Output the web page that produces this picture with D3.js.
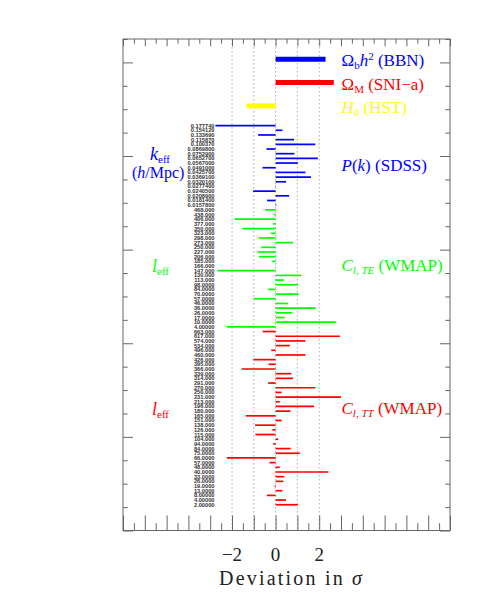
<!DOCTYPE html>
<html>
<head>
<meta charset="utf-8">
<script src="https://cdn.jsdelivr.net/npm/d3@7"></script>
<style>
  body { margin: 0; background: #fff; }
  text { font-family: 'Liberation Serif', 'DejaVu Serif', serif; }
</style>
</head>
<body>
<div id="chart"></div>
<script>
const w = 498, h = 609

// constraints on top
const topNames = ['BBN', 'SNI-a', 'HST']
const topDev = [2.29, 2.67, -1.33]
const topColors = ['#0000ff', '#ff0000', '#ffff00']

// SDSS P(k)
const kLabels = ['0.177740', '0.154120', '0.133690', '0.115870', '0.100370', '0.0869800', '0.0752900',
  '0.0652700', '0.0567000', '0.0491000', '0.0425700', '0.0369100', '0.0320100', '0.0277400',
  '0.0240500', '0.0208900', '0.0181400', '0.0157800']
const kDev = [-2.76, 0.31, -0.80, 0.85, 1.82, -0.42, 0.86, 1.94, 1.02, -0.60, 1.37, 1.62, 0.48, 0.02,
  -1.03, 0.62, -0.39, 0.03]

// WMAP TE
const teLabels = ['468.000', '438.000', '406.000', '377.000', '350.000', '323.000', '298.000', '273.000',
  '250.000', '227.000', '206.000', '185.000', '166.000', '147.000', '130.000', '113.000', '98.0000',
  '84.0000', '70.0000', '57.0000', '46.0000', '36.0000', '26.0000', '17.0000', '10.0000', '4.00000']
const teDev = [-0.48, -0.08, -1.87, -0.12, -1.53, -0.22, -0.77, 0.80, -0.66, -0.82, -0.77, -0.15, -0.02,
  -2.67, 1.17, 0.39, 1.02, -0.34, 1.06, -1.00, 0.57, 1.84, 0.76, 0.42, 2.76, -2.24]

// WMAP TT
const ttLabels = ['663.000', '617.000', '574.000', '534.000', '496.000', '460.000', '426.000', '395.000',
  '366.000', '339.000', '314.000', '291.000', '270.000', '250.000', '231.000', '213.000', '196.000',
  '180.000', '165.000', '151.000', '138.000', '126.000', '115.000', '104.000', '94.0000', '84.0000',
  '75.0000', '66.0000', '57.0000', '48.0000', '40.0000', '33.0000', '26.0000', '19.0000', '13.0000',
  '8.00000', '4.00000', '2.00000']
const ttDev = [-0.59, 2.95, 1.37, 0.65, -0.20, 1.37, -1.02, -0.32, -1.56, 0.72, 0.80, -0.34, 1.82, 0.28,
  3.00, 0.19, 1.76, 0.68, -1.37, 0.28, -0.94, -0.15, -0.93, 0.12, -0.11, 0.69, 1.11, -2.24, -0.28,
  0.19, 2.42, 0.40, 0.35, -0.05, 0.31, -0.40, 0.48, 1.02]

const svg = d3.select('#chart').append('svg')
  .attr('width', w).attr('height', h)

const x = d3.scaleLinear().domain([-7, 8]).range([123, 450])
const y = d3.scaleLinear().domain([0, 105]).range([530.5, 39])

const frameCol = '#666'

// dotted guide lines
svg.selectAll('line.grid')
  .data([-2, -1, 0, 1, 2])
  .enter().append('line')
  .attr('class', 'grid')
  .attr('x1', d => x(d)).attr('x2', d => x(d))
  .attr('y1', y(105)).attr('y2', y(0))
  .attr('stroke', '#999').attr('stroke-width', 0.8)
  .attr('stroke-dasharray', '1.5,2.5')

// rows
const rows = []
kLabels.forEach((l, i) => rows.push({ label: l, dev: kDev[i], color: '#0000ff' }))
teLabels.forEach((l, i) => rows.push({ label: l, dev: teDev[i], color: '#00ff00' }))
ttLabels.forEach((l, i) => rows.push({ label: l, dev: ttDev[i], color: '#ff0000' }))
rows.forEach((r, i) => { r.v = 86.5 - i })

svg.selectAll('line.row')
  .data(rows)
  .enter().append('line')
  .attr('class', 'row')
  .attr('x1', x(0)).attr('x2', d => x(d.dev) === x(0) ? x(0) + 0.5 : x(d.dev))
  .attr('y1', d => y(d.v)).attr('y2', d => y(d.v))
  .attr('stroke', d => d.color).attr('stroke-width', 1.7)

svg.selectAll('text.rowlab')
  .data(rows)
  .enter().append('text')
  .attr('class', 'rowlab')
  .attr('x', 214.5).attr('y', d => y(d.v) + 2)
  .attr('text-anchor', 'end')
  .style('font-family', 'Liberation Sans, sans-serif')
  .style('font-size', '5.7px')
  .style('font-weight', 'bold')
  .attr('fill', '#333')
  .text(d => d.label)

// the three thick bars
svg.selectAll('line.top')
  .data(topDev)
  .enter().append('line')
  .attr('class', 'top')
  .attr('x1', x(0)).attr('x2', d => x(d))
  .attr('y1', (d, i) => y(100.7 - 5 * i)).attr('y2', (d, i) => y(100.7 - 5 * i))
  .attr('stroke', (d, i) => topColors[i]).attr('stroke-width', 5)

// frame and ticks
const axisStyle = g => {
  g.select('.domain').remove()
  g.selectAll('line').attr('stroke', frameCol)
  g.selectAll('text').remove()
}
const halfs = d3.range(-7, 8.01, 0.5)
const ints = halfs.filter(d => Number.isInteger(d))
const minorX = halfs.filter(d => !Number.isInteger(d))

svg.append('g').attr('transform', `translate(0,${y(0)})`)
  .call(d3.axisBottom(x).tickValues(ints).tickSize(-15)).call(axisStyle)
svg.append('g').attr('transform', `translate(0,${y(0)})`)
  .call(d3.axisBottom(x).tickValues(minorX).tickSize(-7.3)).call(axisStyle)
svg.append('g').attr('transform', `translate(0,${y(105)})`)
  .call(d3.axisTop(x).tickValues(ints).tickSize(-7.3)).call(axisStyle)
svg.append('g').attr('transform', `translate(0,${y(105)})`)
  .call(d3.axisTop(x).tickValues(minorX).tickSize(-4.7)).call(axisStyle)

const fives = d3.range(0, 105.01, 5)
const yMajor = fives.filter(d => d % 20 === 0)
const yMinor = fives.filter(d => d % 20 !== 0)
svg.append('g').attr('transform', `translate(${x(-7)},0)`)
  .call(d3.axisLeft(y).tickValues(yMajor).tickSize(-10)).call(axisStyle)
svg.append('g').attr('transform', `translate(${x(-7)},0)`)
  .call(d3.axisLeft(y).tickValues(yMinor).tickSize(-4.7)).call(axisStyle)
svg.append('g').attr('transform', `translate(${x(8)},0)`)
  .call(d3.axisRight(y).tickValues(yMajor).tickSize(-10)).call(axisStyle)
svg.append('g').attr('transform', `translate(${x(8)},0)`)
  .call(d3.axisRight(y).tickValues(yMinor).tickSize(-4.7)).call(axisStyle)

svg.append('rect')
  .attr('x', x(-7)).attr('y', y(105))
  .attr('width', x(8) - x(-7)).attr('height', y(0) - y(105))
  .attr('fill', 'none').attr('stroke', frameCol).attr('stroke-width', 1)

// bottom tick labels
svg.selectAll('text.xlab')
  .data([-2, 0, 2])
  .enter().append('text')
  .attr('class', 'xlab')
  .attr('x', d => x(d)).attr('y', 560.5)
  .attr('text-anchor', 'middle')
  .style('font-size', '19px')
  .attr('fill', '#222')
  .text(d => d < 0 ? '\u2212' + Math.abs(d) : d)

svg.append('text')
  .attr('x', x(0) + 16).attr('y', 585)
  .attr('text-anchor', 'middle')
  .style('font-size', '20px')
  .style('letter-spacing', '2.2px')
  .attr('fill', '#222')
  .text('Deviation in ')
  .append('tspan').style('font-style', 'italic').text('\u03c3')

// labels on the right
const lx = 341.5
const addLabel = (yb, color, parts) => {
  const t = svg.append('text').attr('x', lx).attr('y', yb)
    .attr('fill', color).style('font-size', '17px')
  parts.forEach(p => {
    const s = t.append('tspan').text(p.t)
    if (p.i) s.style('font-style', 'italic')
    if (p.dy) s.attr('dy', p.dy)
    if (p.s) s.style('font-size', p.s)
  })
}
addLabel(66, '#0000ff', [{ t: '\u03a9' }, { t: 'b', dy: 3, s: '11px' }, { t: 'h', dy: -3, i: true },
  { t: '2', dy: -6, s: '11px' }, { t: ' (' + topNames[0] + ')', dy: 6 }])
addLabel(90, '#ff0000', [{ t: '\u03a9' }, { t: 'M', dy: 3, s: '11px' },
  { t: ' (SNI\u2212a)', dy: -3 }])
addLabel(113, '#ffff00', [{ t: 'H', i: true }, { t: '0', dy: 3, s: '11px' },
  { t: ' (' + topNames[2] + ')', dy: -3 }])
addLabel(171, '#0000ff', [{ t: 'P', i: true }, { t: '(' }, { t: 'k', i: true }, { t: ') (SDSS)' }])
addLabel(271, '#00ff00', [{ t: 'C', i: true }, { t: 'l, TE', dy: 3, s: '11px', i: true },
  { t: ' (WMAP)', dy: -3 }])
addLabel(414, '#ff0000', [{ t: 'C', i: true }, { t: 'l, TT', dy: 3, s: '11px', i: true },
  { t: ' (WMAP)', dy: -3 }])

// labels on the left
const leftLabel = (xx, yb, color, main) => {
  const t = svg.append('text').attr('x', xx).attr('y', yb)
    .attr('fill', color).style('font-size', '18px')
  t.append('tspan').style('font-style', 'italic').text(main)
  t.append('tspan').attr('dy', 3).style('font-size', '11px').text('eff')
}
leftLabel(150, 160, '#0000ff', 'k')
const mpc = svg.append('text').attr('x', 132).attr('y', 178).attr('fill', '#0000ff')
  .style('font-size', '16px')
mpc.append('tspan').text('(')
mpc.append('tspan').style('font-style', 'italic').text('h')
mpc.append('tspan').text('/Mpc)')
leftLabel(152, 272, '#00ff00', 'l')
leftLabel(152, 415, '#ff0000', 'l')
</script>
</body>
</html>
